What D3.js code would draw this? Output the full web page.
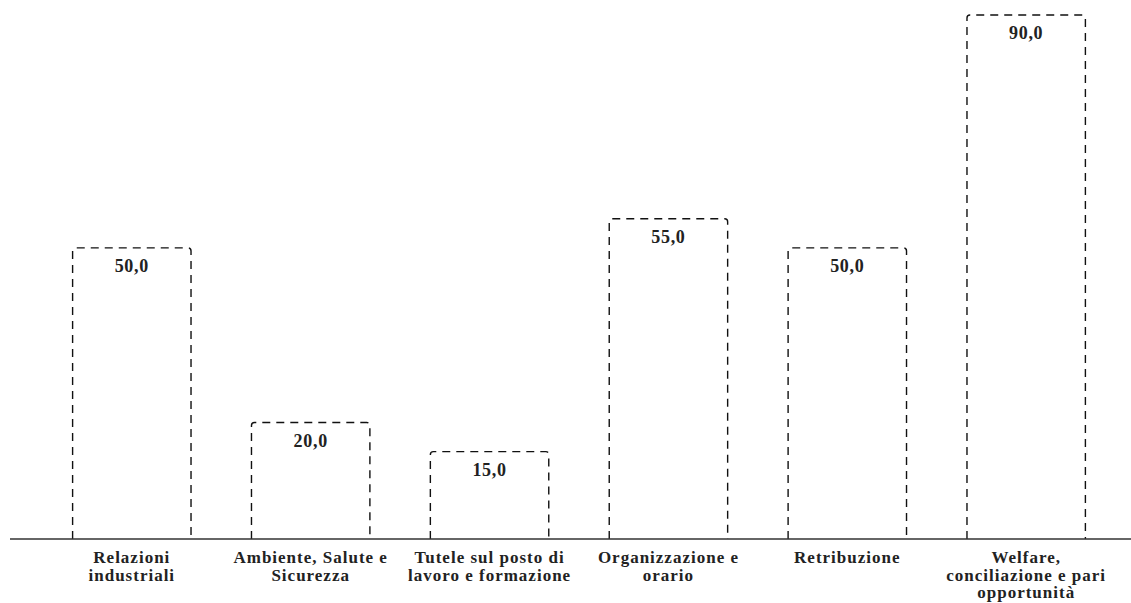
<!DOCTYPE html>
<html>
<head>
<meta charset="utf-8">
<script src="https://cdn.jsdelivr.net/npm/d3@7"></script>
<style>
  body { margin: 0; background: #fff; }
  svg { display: block; }
</style>
</head>
<body>
<svg id="chart"></svg>
<script>
let categories = [
    ["Relazioni", "industriali"],
    ["Ambiente, Salute e", "Sicurezza"],
    ["Tutele sul posto di", "lavoro e formazione"],
    ["Organizzazione e", "orario"],
    ["Retribuzione"],
    ["Welfare,", "conciliazione e pari", "opportunità"]
];
let values = [50, 20, 15, 55, 50, 90];
let valueLabels = ["50,0", "20,0", "15,0", "55,0", "50,0", "90,0"];

let w = 1131;
let h = 603;
let baseY = 539;

let svg = d3.select("#chart")
    .attr("width", w)
    .attr("height", h);

let keys = categories.map((d, i) => i);

// x scale
let xScale = d3.scaleBand()
    .domain(keys)
    .range([10, 1148])
    .paddingInner(0.338)
    .paddingOuter(0.35);

// y scale
let yScale = d3.scaleLinear()
    .domain([0, 90])
    .range([baseY, 15]);

let font = "Liberation Serif";

// bars: dashed outline, open at the bottom
svg.append("g")
    .selectAll("path")
    .data(values)
    .join("path")
    .attr("d", (d, i) => {
        let x0 = xScale(i);
        let x1 = x0 + xScale.bandwidth();
        let y0 = yScale(d);
        let r = 3;
        return `M${x0},${baseY} L${x0},${y0 + r} Q${x0},${y0} ${x0 + r},${y0} ` +
            `L${x1 - r},${y0} Q${x1},${y0} ${x1},${y0 + r} L${x1},${baseY}`;
    })
    .attr("fill", "none")
    .attr("stroke", "#111")
    .attr("stroke-width", 1.4)
    .attr("stroke-dasharray", "8,6");

// value labels
svg.append("g")
    .selectAll("text")
    .data(values)
    .join("text")
    .attr("x", (d, i) => xScale(i) + xScale.bandwidth() / 2)
    .attr("y", d => yScale(d) + 24)
    .attr("text-anchor", "middle")
    .attr("font-family", font)
    .attr("font-weight", "bold")
    .attr("font-size", 18)
    .attr("letter-spacing", 0.7)
    .attr("fill", "#222")
    .text((d, i) => valueLabels[i]);

// axis line
svg.append("line")
    .attr("x1", 10)
    .attr("x2", w)
    .attr("y1", baseY)
    .attr("y2", baseY)
    .attr("stroke", "#333")
    .attr("stroke-width", 1.5);

// category labels
let catLabels = svg.append("g")
    .selectAll("text")
    .data(categories)
    .join("text")
    .attr("text-anchor", "middle")
    .attr("font-family", font)
    .attr("font-weight", "bold")
    .attr("font-size", 17)
    .attr("letter-spacing", 1)
    .attr("fill", "#222");

catLabels.selectAll("tspan")
    .data((d, i) => d.map(s => ({ s: s, i: i })))
    .join("tspan")
    .attr("x", d => xScale(d.i) + xScale.bandwidth() / 2)
    .attr("y", (d, j) => 563 + j * 17.5)
    .text(d => d.s);
</script>
</body>
</html>
